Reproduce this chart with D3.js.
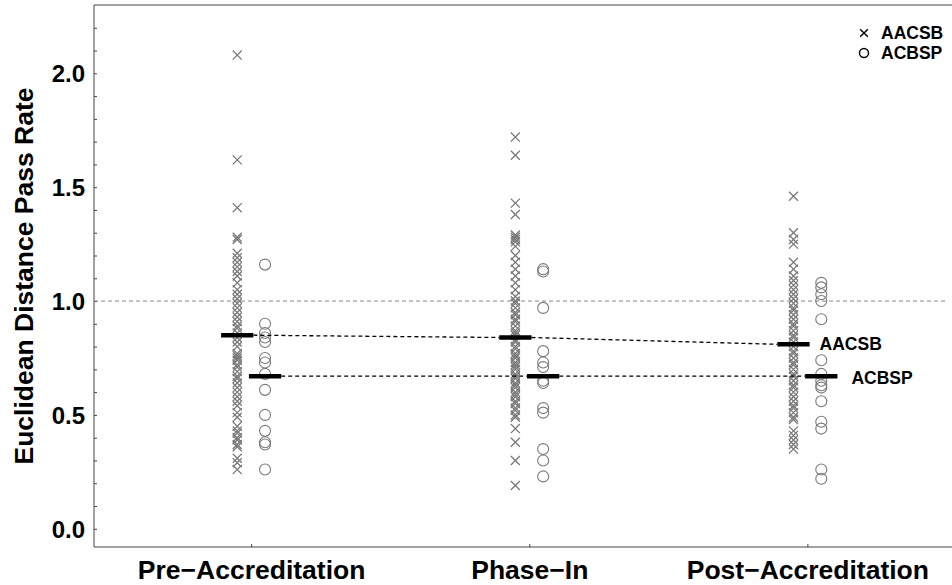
<!DOCTYPE html>
<html>
<head>
<meta charset="utf-8">
<script src="https://cdn.jsdelivr.net/npm/d3@7"></script>
<style>
  body { margin: 0; background: #fff; }
  svg { display: block; font-family: "Liberation Sans", Arial, sans-serif; }
</style>
</head>
<body>
<svg id="chart" width="952" height="585"></svg>
<script>
// ====== Data ======
const categories = ["Pre\u2212Accreditation", "Phase\u2212In", "Post\u2212Accreditation"];
const groups = ["AACSB", "ACBSP"];

// AACSB values per phase
const aacsbPre = [2.08, 1.62, 1.41, 1.28, 1.27, 1.21, 1.19, 1.17, 1.15, 1.13, 1.11, 1.08, 1.05, 1.03,
  1.01, 0.99, 0.97, 0.95, 0.93, 0.91, 0.89, 0.88, 0.86, 0.84, 0.82, 0.80, 0.77, 0.76, 0.75, 0.74,
  0.72, 0.71, 0.69, 0.67, 0.66, 0.64, 0.62, 0.60, 0.58, 0.56, 0.54, 0.51, 0.49, 0.45, 0.43, 0.42,
  0.40, 0.39, 0.37, 0.36, 0.31, 0.29, 0.26];
const aacsbPhase = [1.72, 1.64, 1.43, 1.38, 1.29, 1.28, 1.27, 1.26, 1.24, 1.20, 1.17, 1.14, 1.11,
  1.08, 1.05, 1.02, 1.00, 0.99, 0.97, 0.95, 0.94, 0.92, 0.91, 0.89, 0.87, 0.86, 0.85, 0.83, 0.82,
  0.80, 0.79, 0.77, 0.76, 0.75, 0.73, 0.72, 0.71, 0.70, 0.68, 0.67, 0.66, 0.64, 0.63, 0.62, 0.60,
  0.59, 0.58, 0.56, 0.55, 0.53, 0.52, 0.50, 0.49, 0.44, 0.38, 0.30, 0.19];
const aacsbPost = [1.46, 1.30, 1.27, 1.25, 1.17, 1.14, 1.11, 1.09, 1.07, 1.05, 1.03, 1.01, 0.99,
  0.97, 0.96, 0.94, 0.92, 0.90, 0.89, 0.87, 0.85, 0.84, 0.82, 0.80, 0.78, 0.77, 0.75, 0.73, 0.72,
  0.70, 0.68, 0.67, 0.65, 0.63, 0.62, 0.60, 0.58, 0.56, 0.54, 0.53, 0.51, 0.49, 0.48, 0.43, 0.41,
  0.39, 0.37, 0.35];

// ACBSP values per phase
const acbspPre = [1.16, 0.90, 0.86, 0.84, 0.82, 0.75, 0.73, 0.68, 0.61, 0.50, 0.43, 0.38, 0.37, 0.26];
const acbspPhase = [1.14, 1.13, 0.97, 0.78, 0.73, 0.71, 0.65, 0.64, 0.53, 0.51, 0.35, 0.30, 0.23];
const acbspPost = [1.08, 1.06, 1.03, 1.00, 0.92, 0.74, 0.68, 0.65, 0.63, 0.62, 0.56, 0.47, 0.44, 0.26, 0.22];

// group means (thick bars)
const aacsbMeans = [0.85, 0.84, 0.81];
const acbspMeans = [0.67, 0.67, 0.67];

const yTickLabels = ["0.0", "0.5", "1.0", "1.5", "2.0"];
const refValue = 1.0;

// ====== Layout ======
const svg = d3.select("#chart");
const mLeft = 94, mRight = 952, mTop = 5, mBottom = 547;
const offset = 0.05;      // horizontal shift of each group from the category tick
const barHalf = 0.058;    // half width of mean bar (x units)

const x = d3.scaleLinear().domain([0.435, 3.52]).range([mLeft, mRight]);
const y = d3.scaleLinear().domain([-0.08, 2.3]).range([mBottom, mTop]);

const grey = "#7a7a7a";
const font = "Liberation Sans, Arial, sans-serif";

// ====== Axes ======
const yAxis = d3.axisLeft(y)
  .tickValues(d3.range(0, 23).map(i => i / 10))
  .tickSize(-3)
  .tickFormat(d => {
    const s = d3.format(".1f")(d);
    return yTickLabels.includes(s) ? s : "";
  });

const gy = svg.append("g").attr("transform", `translate(${mLeft},0)`).call(yAxis);
gy.select(".domain").attr("d", `M0,${mTop}V${mBottom}`).attr("stroke", "#444");
gy.selectAll(".tick line").attr("stroke", "#444");
gy.selectAll(".tick text")
  .attr("x", -9)
  .attr("dy", "0.36em")
  .attr("font-size", 24)
  .attr("font-weight", "bold")
  .attr("font-family", font)
  .attr("fill", "#000");

const xAxis = d3.axisBottom(x)
  .tickValues([1, 2, 3])
  .tickSize(-3)
  .tickFormat((d, i) => categories[i]);

const gx = svg.append("g").attr("transform", `translate(0,${mBottom})`).call(xAxis);
gx.select(".domain").attr("d", `M${mLeft},0H${mRight}`).attr("stroke", "#444");
gx.selectAll(".tick line").attr("stroke", "#444");
gx.selectAll(".tick text")
  .attr("y", 13)
  .attr("dy", "0.71em")
  .attr("font-size", 26.5)
  .attr("font-weight", "bold")
  .attr("font-family", font)
  .attr("fill", "#000");

// top frame line
svg.append("line")
  .attr("x1", mLeft).attr("x2", mRight)
  .attr("y1", mTop).attr("y2", mTop)
  .attr("stroke", "#444");

// y title
svg.append("text")
  .attr("transform", `translate(33,${(mTop + mBottom) / 2}) rotate(-90)`)
  .attr("text-anchor", "middle")
  .attr("font-size", 26.5)
  .attr("font-weight", "bold")
  .text("Euclidean Distance Pass Rate");

// reference line at 1.0
svg.append("line")
  .attr("x1", mLeft).attr("x2", x(3.5))
  .attr("y1", y(refValue)).attr("y2", y(refValue))
  .attr("stroke", "#888")
  .attr("stroke-dasharray", "4,3");

// ====== Points ======
const aacsbSets = [aacsbPre, aacsbPhase, aacsbPost];
const acbspSets = [acbspPre, acbspPhase, acbspPost];

const crossPts = aacsbSets.flatMap((vals, i) => vals.map(v => ({ cx: i + 1 - offset, v })));
const circlePts = acbspSets.flatMap((vals, i) => vals.map(v => ({ cx: i + 1 + offset, v })));

const cross = d3.symbol().type(d3.symbolX).size(55);

svg.append("g").selectAll("path")
  .data(crossPts)
  .join("path")
  .attr("d", cross)
  .attr("transform", d => `translate(${x(d.cx)},${y(d.v)})`)
  .attr("fill", "none")
  .attr("stroke", grey)
  .attr("stroke-width", 1.3);

svg.append("g").selectAll("circle")
  .data(circlePts)
  .join("circle")
  .attr("cx", d => x(d.cx))
  .attr("cy", d => y(d.v))
  .attr("r", 5.5)
  .attr("fill", "none")
  .attr("stroke", grey)
  .attr("stroke-width", 1.1);

// ====== Means ======
function drawMeans(means, shift) {
  // dashed connectors between bar ends
  for (let i = 0; i < means.length - 1; i++) {
    svg.append("line")
      .attr("x1", x(i + 1 + shift + barHalf)).attr("y1", y(means[i]))
      .attr("x2", x(i + 2 + shift - barHalf)).attr("y2", y(means[i + 1]))
      .attr("stroke", "#000")
      .attr("stroke-width", 1.3)
      .attr("stroke-dasharray", "4,3");
  }
  svg.append("g").selectAll("line")
    .data(means)
    .join("line")
    .attr("x1", (d, i) => x(i + 1 + shift - barHalf))
    .attr("x2", (d, i) => x(i + 1 + shift + barHalf))
    .attr("y1", d => y(d))
    .attr("y2", d => y(d))
    .attr("stroke", "#000")
    .attr("stroke-width", 4.5);
}
drawMeans(aacsbMeans, -offset);
drawMeans(acbspMeans, offset);

// end labels
svg.append("text")
  .attr("x", x(3 - offset + barHalf) + 10)
  .attr("y", y(aacsbMeans[2]) + 6)
  .attr("font-size", 17.5)
  .attr("font-weight", "bold")
  .text(groups[0]);
svg.append("text")
  .attr("x", x(3 + offset + barHalf) + 14)
  .attr("y", y(acbspMeans[2]) + 8)
  .attr("font-size", 17.5)
  .attr("font-weight", "bold")
  .text(groups[1]);

// ====== Legend ======
const legend = svg.append("g").attr("transform", "translate(864,33)");
legend.append("path")
  .attr("d", d3.symbol().type(d3.symbolX).size(40))
  .attr("fill", "none")
  .attr("stroke", "#000")
  .attr("stroke-width", 1.4);
legend.append("circle")
  .attr("cy", 20)
  .attr("r", 4.5)
  .attr("fill", "none")
  .attr("stroke", "#000")
  .attr("stroke-width", 1.4);
legend.selectAll("text")
  .data(groups)
  .join("text")
  .attr("x", 17)
  .attr("y", (d, i) => i * 20 + 6)
  .attr("font-size", 17.5)
  .attr("font-weight", "bold")
  .text(d => d);
</script>
</body>
</html>
